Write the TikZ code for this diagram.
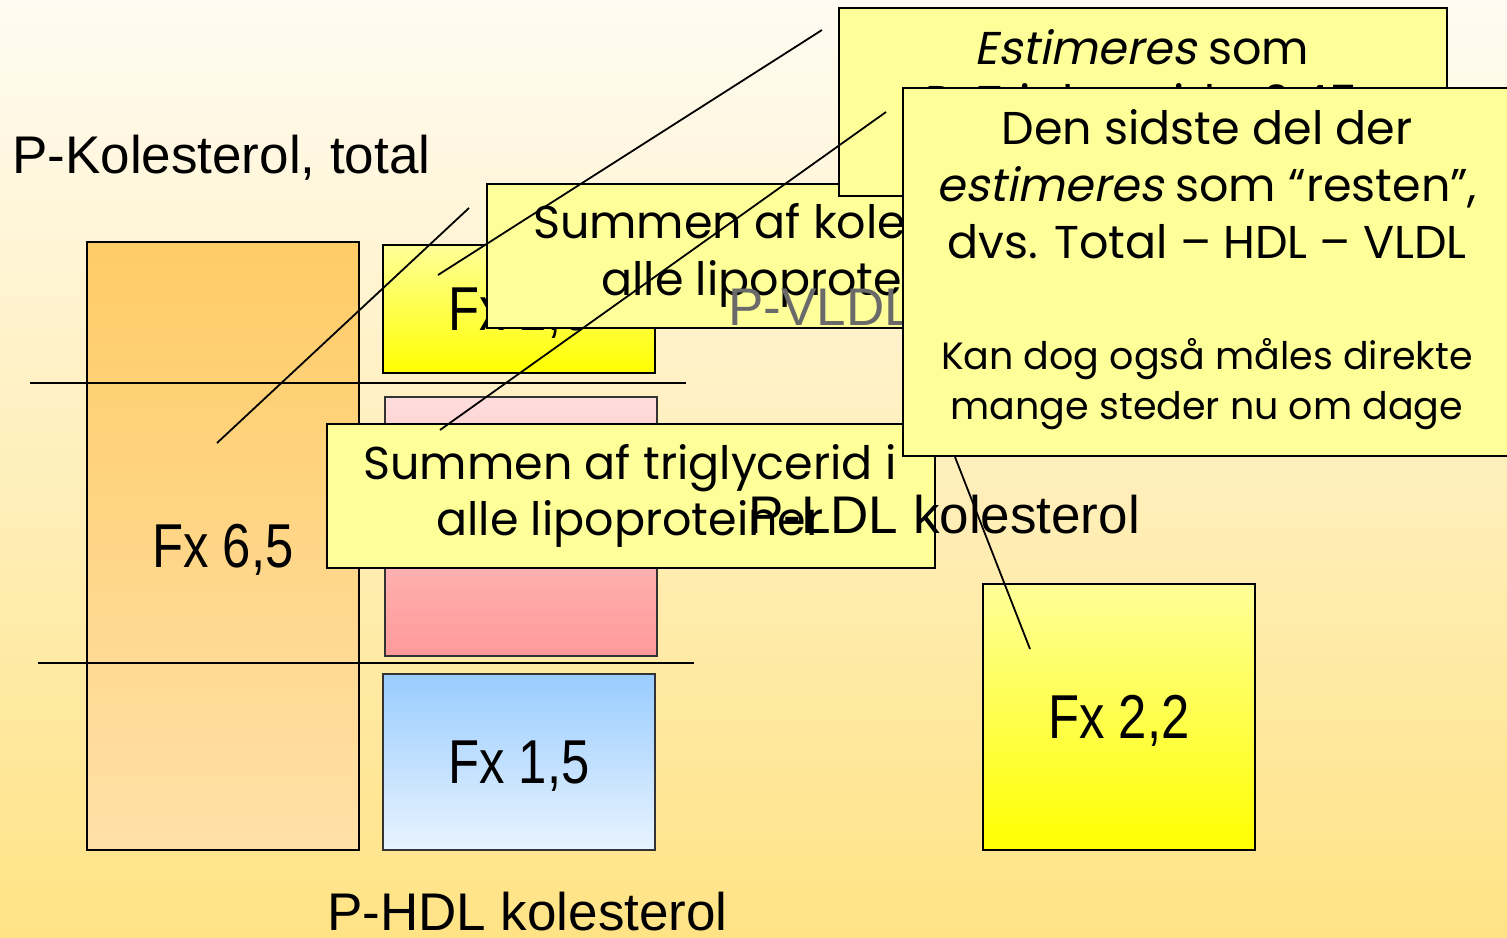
\documentclass[tikz,border=0pt]{standalone}
\usepackage{fontspec}
\setmainfont{Liberation Sans}
\newfontfamily\narrowfont[FakeStretch=0.82]{Liberation Sans}
\newfontfamily\comic{Poppins}
\newfontfamily\comicit[FakeSlant=0.2]{Poppins}
\definecolor{bgtop}{HTML}{FFFBF2}
\definecolor{bgbot}{HTML}{FFE385}
\definecolor{orgtop}{HTML}{FFCC66}
\definecolor{orgbot}{HTML}{FFE0A8}
\definecolor{yeltop}{HTML}{FFFF99}
\definecolor{yelbot}{HTML}{FFFF00}
\definecolor{pnktop}{HTML}{FFDDDD}
\definecolor{pnkbot}{HTML}{FF9999}
\definecolor{blutop}{HTML}{99CCFF}
\definecolor{blubot}{HTML}{E8F4FF}
\definecolor{callfill}{HTML}{FFFF99}
\definecolor{vldlgray}{HTML}{6A6A6A}
\tikzset{
  fxbox/.style={draw=black, line width=2pt, anchor=north west, inner sep=0pt},
  fxlabel/.style={font=\narrowfont\fontsize{62}{70}\selectfont, inner sep=0pt, yshift=-4pt},
  bigtext/.style={font=\fontsize{53}{62}\selectfont, anchor=base west, inner sep=0pt},
  callout/.style={draw=black, line width=2pt, fill=callfill, anchor=north west, inner sep=0pt},
  calltext/.style={font=\comic\fontsize{46}{52}\selectfont, anchor=base, inner sep=0pt},
  calltextsmall/.style={font=\comic\fontsize{38}{44}\selectfont, anchor=base, inner sep=0pt},
  pointer/.style={draw=black, line width=1.8pt},
  divider/.style={draw=black, line width=2pt}
}
\begin{document}
\begin{tikzpicture}[x=1pt,y=-1pt]
\shade[top color=bgtop, bottom color=bgbot] (0,0) rectangle (1507,937);
\useasboundingbox (0,0) rectangle (1507,937);

% boxes
\node[fxbox, minimum width=272pt, minimum height=608pt, top color=orgtop, bottom color=orgbot] (tot) at (86,241) {};
\node[fxlabel] (totl) at (tot.center) {Fx 6,5};
\node[fxbox, minimum width=272pt, minimum height=128pt, top color=yeltop, bottom color=yelbot] (vldl) at (382,244) {};
\node[fxlabel] (vldll) at (vldl.center) {Fx 1,6};
\node[fxbox, draw=black!80, minimum width=272pt, minimum height=259pt, top color=pnktop, bottom color=pnkbot] (ldl) at (384,396) {};
\node[fxbox, draw=black!80, minimum width=272pt, minimum height=176pt, top color=blutop, bottom color=blubot] (hdl) at (382,673) {};
\node[fxlabel] (hdll) at (hdl.center) {Fx 1,5};
\node[fxbox, minimum width=272pt, minimum height=266pt, top color=yeltop, bottom color=yelbot] (tg) at (982,583) {};
\node[fxlabel] (tgl) at (tg.center) {Fx 2,2};

% dividers
\coordinate (d1a) at (30,383);
\coordinate (d1b) at (686,383);
\coordinate (d2a) at (38,663);
\coordinate (d2b) at (694,663);
\draw[divider] (d1a) -- (d1b);
\draw[divider] (d2a) -- (d2b);

% labels
\node[bigtext] (ttot) at (12,173) {P-Kolesterol, total};
\node[bigtext] (thdl) at (327,930) {P-HDL kolesterol};

% callout: sum cholesterol
\node[callout, minimum width=608pt, minimum height=144pt] (ck) at (486,183) {};
\node[calltext] (ck1) at (795,238) {Summen af kolesterol i};
\node[calltext] (ck2) at (795,295) {alle lipoproteiner};

\node[bigtext, text=vldlgray] (tvldl) at (728,325) {P-VLDL};

% callout: estimeres
\node[callout, minimum width=608pt, minimum height=188pt] (ce) at (838,7) {};
\node[calltext] (ce1) at (1142,64) {{\comicit Estimeres} som};
\node[calltext] (ce2) at (1142,118) {P-Triglycerid x 0,45};

% callout: triglycerid
\node[callout, minimum width=608pt, minimum height=144pt] (ct) at (326,423) {};
\node[calltext] (ct1) at (630,479) {Summen af triglycerid i};
\node[calltext] (ct2) at (630,535) {alle lipoproteiner};

\node[bigtext] (tldl) at (748,533) {P-LDL kolesterol};

% pointers
\coordinate (p1a) at (217,443);
\coordinate (p1b) at (469,208);
\coordinate (p2a) at (438,275);
\coordinate (p2b) at (822,30);
\coordinate (p3a) at (440,430);
\coordinate (p3b) at (886,112);
\draw[pointer] (p1a) -- (p1b);
\draw[pointer] (p2a) -- (p2b);
\draw[pointer] (p3a) -- (p3b);

% callout: LDL
\node[callout, minimum width=610pt, minimum height=368pt] (cl) at (902,87) {};
\coordinate (p4a) at (955,457);
\coordinate (p4b) at (1030,649);
\draw[pointer] (p4a) -- (p4b);
\node[calltext] (cl1) at (1207,144) {Den sidste del der};
\node[calltext] (cl2) at (1207,201) {{\comicit estimeres} som “resten”,};
\node[calltext] (cl3) at (1207,258) {dvs. Total – HDL – VLDL};
\node[calltextsmall] (cl4) at (1207,369) {Kan dog også måles direkte};
\node[calltextsmall] (cl5) at (1207,419) {mange steder nu om dage};
\end{tikzpicture}
\end{document}
